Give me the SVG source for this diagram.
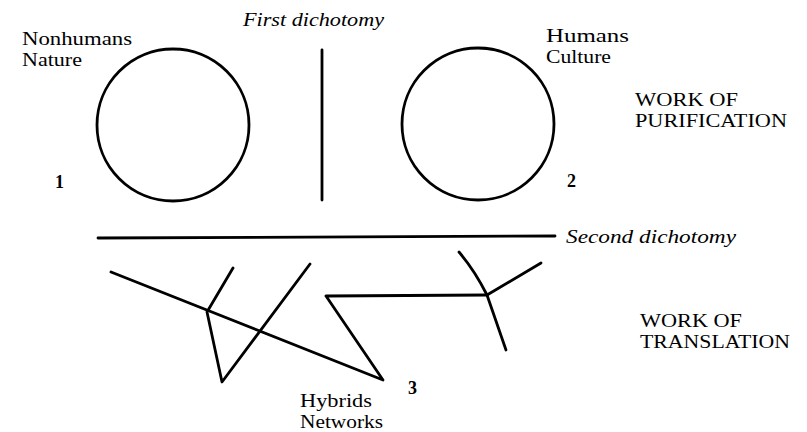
<svg xmlns="http://www.w3.org/2000/svg" width="807" height="432" viewBox="0 0 807 432">
<style>
  .ln { fill: none; stroke: #000; stroke-width: 2.8; stroke-linecap: round; stroke-linejoin: round; }
  .t { font-family: "Liberation Serif", "DejaVu Serif", serif; font-size: 19px; fill: #000; }
  .it { font-family: "Liberation Serif", "DejaVu Serif", serif; font-style: italic; font-size: 19px; fill: #000; }
  .cap { font-family: "Liberation Serif", "DejaVu Serif", serif; font-size: 19px; fill: #000; }
  .num { font-family: "Liberation Serif", "DejaVu Serif", serif; font-weight: bold; font-size: 18px; fill: #000; }
</style>
<rect width="807" height="432" fill="#fff"/>

<g id="nature">
  <circle class="ln" cx="173" cy="125" r="76"/>
  <text class="t" x="22" y="45" textLength="110" lengthAdjust="spacingAndGlyphs">Nonhumans</text>
  <text class="t" x="22" y="66" textLength="60" lengthAdjust="spacingAndGlyphs">Nature</text>
  <text class="num" x="55" y="188">1</text>
</g>

<g id="culture">
  <circle class="ln" cx="478" cy="124" r="76"/>
  <text class="t" x="546" y="42" textLength="83" lengthAdjust="spacingAndGlyphs">Humans</text>
  <text class="t" x="546" y="63" textLength="65" lengthAdjust="spacingAndGlyphs">Culture</text>
  <text class="num" x="567" y="187">2</text>
</g>

<g id="first-dichotomy">
  <line class="ln" x1="322" y1="50" x2="322" y2="200"/>
  <text class="it" x="243" y="26" textLength="141" lengthAdjust="spacingAndGlyphs">First dichotomy</text>
</g>

<g id="purification">
  <text class="cap" x="635" y="106" textLength="103" lengthAdjust="spacingAndGlyphs">WORK OF</text>
  <text class="cap" x="635" y="127" textLength="152" lengthAdjust="spacingAndGlyphs">PURIFICATION</text>
</g>

<g id="second-dichotomy">
  <line class="ln" x1="98" y1="238" x2="555" y2="236"/>
  <text class="it" x="566" y="243" textLength="170" lengthAdjust="spacingAndGlyphs">Second dichotomy</text>
</g>

<g id="translation">
  <text class="cap" x="640" y="327" textLength="102" lengthAdjust="spacingAndGlyphs">WORK OF</text>
  <text class="cap" x="640" y="348" textLength="150" lengthAdjust="spacingAndGlyphs">TRANSLATION</text>
</g>

<g id="hybrids">
  <text class="t" x="300" y="407" textLength="72" lengthAdjust="spacingAndGlyphs">Hybrids</text>
  <text class="t" x="300" y="428" textLength="83" lengthAdjust="spacingAndGlyphs">Networks</text>
  <text class="num" x="408" y="394">3</text>
</g>

<g id="connectors">
  <polyline class="ln" points="111,272 383,380 326,296 487,295"/>
  <polyline class="ln" points="233,268 207,312 222,382 310,264"/>
  <path class="ln" d="M459,252 Q475,271 487,295"/>
  <line class="ln" x1="487" y1="295" x2="541" y2="263"/>
  <line class="ln" x1="487" y1="295" x2="506" y2="350"/>
</g>
</svg>
